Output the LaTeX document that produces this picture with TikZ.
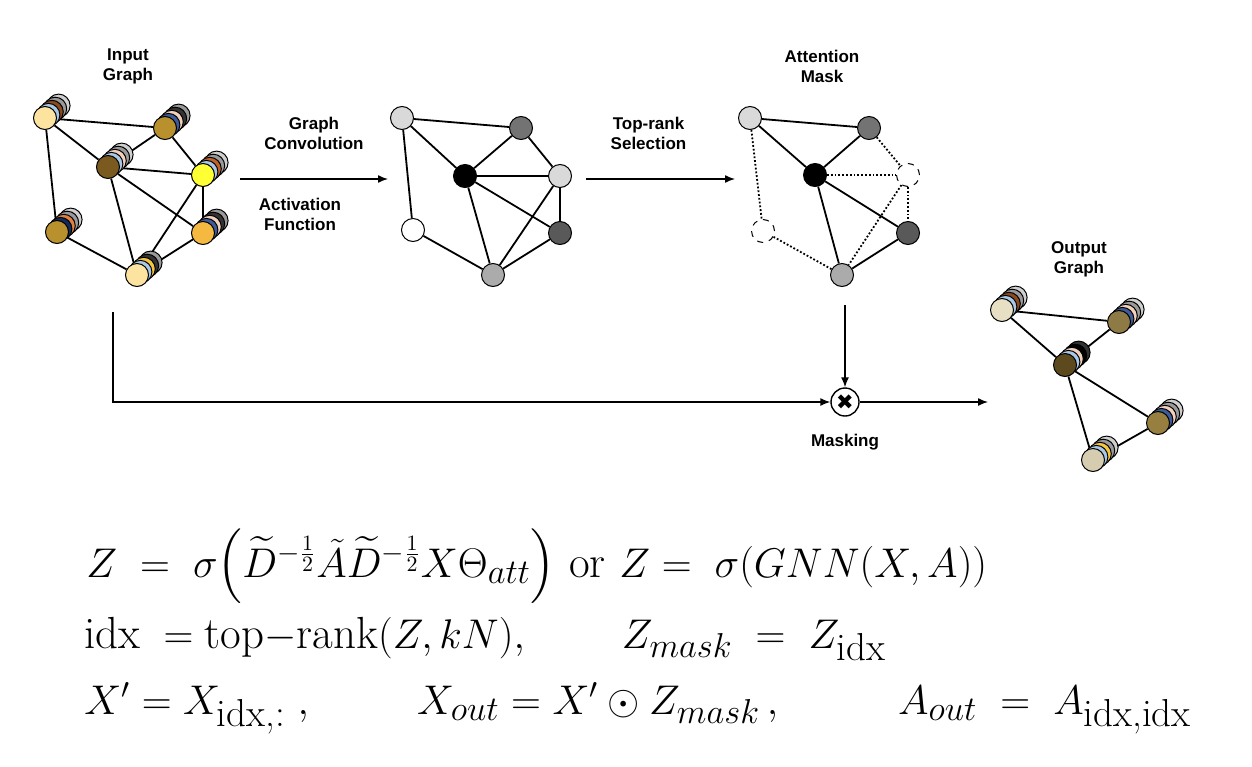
\documentclass[tikz,border=0pt]{standalone}
\usepackage{fontspec}
\usepackage{amsmath}
\usetikzlibrary{arrows.meta,backgrounds}
\newfontfamily\lblfont{Liberation Sans}
\newfontfamily\symfont{DejaVu Sans}

\definecolor{cream}{HTML}{FCE4A0}
\definecolor{skyb}{HTML}{A9C8E8}
\definecolor{rust}{HTML}{8B4A1C}
\definecolor{greyA}{HTML}{9A9A9A}
\definecolor{greyB}{HTML}{CFCFCF}
\definecolor{gold}{HTML}{B8902E}
\definecolor{steel}{HTML}{3D5A99}
\definecolor{peach}{HTML}{F2D0BB}
\definecolor{coal}{HTML}{333333}
\definecolor{umber}{HTML}{7A5A1E}
\definecolor{lemon}{HTML}{FFFF33}
\definecolor{copper}{HTML}{C0612A}
\definecolor{navy}{HTML}{0F2B5C}
\definecolor{tang}{HTML}{E08040}
\definecolor{amber}{HTML}{F5B942}
\definecolor{sun}{HTML}{F5C542}
\definecolor{linen}{HTML}{E8E0C4}
\definecolor{olive}{HTML}{8E7A45}
\definecolor{cocoa}{HTML}{5C4A1E}
\definecolor{khaki}{HTML}{97803F}
\definecolor{sand}{HTML}{D6CDB0}

% stack of feature discs: name, x, y, back colours (far to near), front colour
\newcommand{\featstack}[5]{%
  \foreach \col [count=\k] in {#4}{%
    \node[feat,fill=\col] at ({#2+(5-\k)*3.4},{#3-(5-\k)*3.1}) {};}%
  \node[feat,fill=#5] (#1) at (#2,#3) {};}
% large subscripts, upright and italic
\newcommand{\idxsub}[1]{\text{\fontsize{19.5}{19.5}\selectfont #1}}
\newcommand{\itsub}[1]{\text{\fontsize{17}{17}\selectfont$#1$}}

\begin{document}
\begin{tikzpicture}[x=0.5pt,y=-0.5pt,
  feat/.style={circle,draw=black,line width=0.5pt,minimum size=11.5pt,inner sep=0pt},
  link/.style={line width=0.9pt},
  dropped/.style={densely dotted,line width=0.9pt},
  flow/.style={-{Latex[length=5pt,width=4pt]},line width=0.7pt},
  lbl/.style={font=\lblfont\bfseries\fontsize{8.5}{10}\selectfont,align=center},
  eq/.style={anchor=base west,inner sep=0pt,font=\fontsize{22.5}{27}\selectfont}]
\useasboundingbox (0,0) rectangle (1252,766);

%%%%%%%% input graph
\node[lbl] (tin) at (128,66) {Input\\Graph};
\featstack{in1}{45}{118}{greyB,greyA,rust,skyb}{cream}
\featstack{in2}{165}{128}{greyA,coal,peach,steel}{gold}
\featstack{in3}{108}{167}{greyB,greyA,peach,skyb}{umber}
\featstack{in4}{203}{175}{greyB,greyA,copper,skyb}{lemon}
\featstack{in5}{57}{232}{greyB,greyA,tang,navy}{gold}
\featstack{in6}{203}{233}{greyA,coal,peach,steel}{amber}
\featstack{in7}{137}{275}{greyA,coal,sun,skyb}{cream}

%%%%%%%% after convolution
\node[feat,fill=black!15] (gc1) at (402,118){};
\node[feat,fill=black!55] (gc2) at (521,128){};
\node[feat,fill=black] (gc3) at (465,176){};
\node[feat,fill=black!15] (gc4) at (560,176){};
\node[feat,fill=white] (gc5) at (413,230){};
\node[feat,fill=black!65] (gc6) at (560,233){};
\node[feat,fill=black!33] (gc7) at (493,275){};

%%%%%%%% attention mask
\node[lbl] (tam) at (822,66) {Attention\\Mask};
\node[feat,fill=black!15] (am1) at (750,118){};
\node[feat,fill=black!55] (am2) at (869,128){};
\node[feat,fill=black] (am3) at (815,175){};
\node[feat,fill=white,dashed] (am4) at (908,175){};
\node[feat,fill=white,dashed] (am5) at (763,231){};
\node[feat,fill=black!65] (am6) at (908,233){};
\node[feat,fill=black!33] (am7) at (842,275){};

%%%%%%%% output graph
\node[lbl] (tout) at (1079,259) {Output\\Graph};
\featstack{out1}{1002}{310}{greyB,greyA,rust,skyb}{linen}
\featstack{out2}{1119}{322}{greyB,greyA,peach,steel}{olive}
\featstack{out3}{1065}{365}{coal,black,peach,skyb}{cocoa}
\featstack{out4}{1158}{423}{greyB,greyA,peach,steel}{khaki}
\featstack{out5}{1093}{460}{greyB,greyA,sun,skyb}{sand}

\begin{pgfonlayer}{background}
\path [link] (in1) edge (in2);
\path [link] (in1) edge (in3);
\path [link] (in1) edge (in5);
\path [link] (in2) edge (in3);
\path [link] (in2) edge (in4);
\path [link] (in3) edge (in4);
\path [link] (in3) edge (in6);
\path [link] (in3) edge (in7);
\path [link] (in4) edge (in6);
\path [link] (in4) edge (in7);
\path [link] (in5) edge (in7);
\path [link] (in6) edge (in7);
%%%%%%%%
\path [link] (gc1) edge (gc2);
\path [link] (gc1) edge (gc3);
\path [link] (gc1) edge (gc5);
\path [link] (gc2) edge (gc3);
\path [link] (gc2) edge (gc4);
\path [link] (gc3) edge (gc4);
\path [link] (gc3) edge (gc6);
\path [link] (gc3) edge (gc7);
\path [link] (gc4) edge (gc6);
\path [link] (gc4) edge (gc7);
\path [link] (gc5) edge (gc7);
\path [link] (gc6) edge (gc7);
%%%%%%%%
\path [link] (am1) edge (am2);
\path [link] (am1) edge (am3);
\path [link] (am2) edge (am3);
\path [link] (am3) edge (am6);
\path [link] (am3) edge (am7);
\path [link] (am6) edge (am7);
\path [dropped] (am1) edge (am5);
\path [dropped] (am2) edge (am4);
\path [dropped] (am3) edge (am4);
\path [dropped] (am4) edge (am6);
\path [dropped] (am4) edge (am7);
\path [dropped] (am5) edge (am7);
%%%%%%%%
\path [link] (out1) edge (out2);
\path [link] (out1) edge (out3);
\path [link] (out2) edge (out3);
\path [link] (out3) edge (out4);
\path [link] (out3) edge (out5);
\path [link] (out4) edge (out5);
\end{pgfonlayer}

%%%%%%%%%%%%%%%%%%%%%%%%%%%%%%%%%%% flow arrows
\coordinate (c1a) at (240,179);
\coordinate (c1b) at (388,179);
\coordinate (c2a) at (586,179);
\coordinate (c2b) at (735,179);
\coordinate (skip) at (113,312);
\coordinate (mtop) at (845,305);
\coordinate (mout) at (988,402);
\node[circle,draw=black,line width=0.7pt,minimum size=14pt,inner sep=0pt,
  label={[lbl,label distance=5pt]below:Masking}] (mask) at (845,402)
  {\symfont\fontsize{10.5}{10.5}\selectfont ✖};

\path [flow] (c1a) edge node[lbl,above=11pt] {Graph\\Convolution}
  node[lbl,below=6pt,xshift=-7pt] {Activation\\Function} (c1b);
\path [flow] (c2a) edge node[lbl,above=11pt,xshift=-6pt] {Top-rank\\Selection} (c2b);
\draw [flow] (skip) |- (mask);
\path [flow] (mtop) edge (mask);
\path [flow] (mask) edge (mout);

%%%%%%%%%%%%%%%%%%%%%%%%%%%%%%%%%%% equations
\node[eq] (eq1) at (86,577) {$Z \;=\; \sigma\Bigl(\widetilde{D}^{-\frac{1}{2}}\tilde{A}\widetilde{D}^{-\frac{1}{2}}X\Theta_{\itsub{att}}\Bigr)$ or $Z =\; \sigma(GNN(X,A))$};
\node[eq] (eq2) at (84,648) {$\mathrm{idx} \;= \mathrm{top}{-}\mathrm{rank}(Z,kN),\qquad Z_{\itsub{mask}} \;=\; Z_{\idxsub{idx}}$};
\node[eq] (eq3) at (84,714) {$X' = X_{\idxsub{idx,:}}\;,\qquad\; X_{\itsub{out}} = X'\odot Z_{\itsub{mask}}\,,\qquad\;\; A_{\itsub{out}} \;=\; A_{\idxsub{idx,idx}}$};

\end{tikzpicture}
\end{document}
